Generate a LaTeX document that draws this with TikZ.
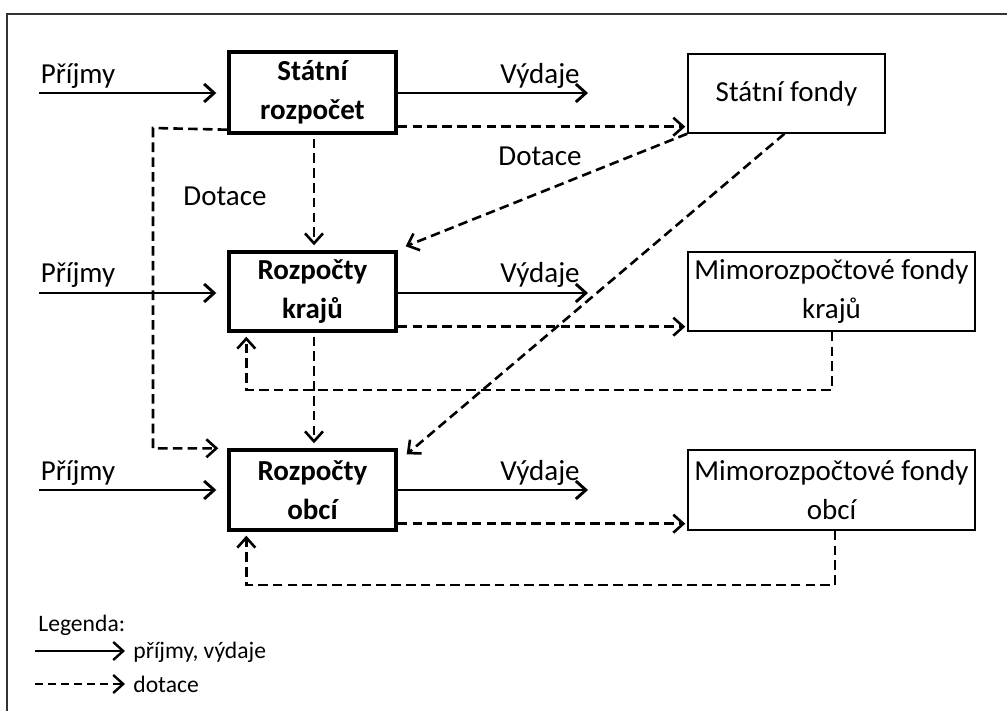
\documentclass[tikz,border=0pt]{standalone}
\usepackage{fontspec}
\setmainfont{Carlito}
\usetikzlibrary{arrows.meta}
\tikzset{
  tipend/.style={-{Straight Barb[length=5pt,width=9pt]}},
  sol/.style={line width=1.45pt, tipend},
  das/.style={line width=1.3pt, dash pattern=on 4.8pt off 2.6pt, tipend},
  bbox/.style={draw, line width=1.7pt, minimum width=83.5pt, align=center, inner sep=0pt,
    font=\bfseries\fontsize{14.5}{19.5}\selectfont},
  fbox/.style={draw, line width=0.75pt, align=center, inner sep=0pt,
    font=\fontsize{14.5}{19.5}\selectfont},
  lbl/.style={inner sep=0pt, font=\fontsize{14.5}{19.5}\selectfont},
  leg/.style={inner sep=0pt, font=\fontsize{11.8}{14}\selectfont},
}
\begin{document}
\begin{tikzpicture}[x=0.5pt,y=-0.5pt]
\useasboundingbox (0,0) rectangle (1007,711);
% frame
\draw[line width=0.8pt, black!80] (7,711) -- (7,14) -- (1007,14);

% boxes
\node[bbox, minimum height=40.5pt] (sr) at (312.5,92.5) {Státní\\rozpočet};
\node[fbox, minimum width=98.5pt, minimum height=39.5pt] (sf) at (786.5,93.5) {Státní fondy};
\node[bbox, minimum height=39.5pt] (kr) at (312.5,291.5) {Rozpočty\\krajů};
\node[fbox, minimum width=143.5pt, minimum height=39.5pt] (mk) at (831.5,291.5) {Mimorozpočtové fondy\\krajů};
\node[bbox, minimum height=40pt] (ob) at (312.5,490) {Rozpočty\\obcí};
\node[fbox, minimum width=143.5pt, minimum height=40pt] (mo) at (831.5,490) {Mimorozpočtové fondy\\obcí};

% labels
\node[lbl] (l1) at (78,76) {Příjmy};
\node[lbl] (l2) at (78,275) {Příjmy};
\node[lbl] (l3) at (78,473) {Příjmy};
\node[lbl] (v1) at (540,76) {Výdaje};
\node[lbl] (v2) at (540,275) {Výdaje};
\node[lbl] (v3) at (540,473) {Výdaje};
\node[lbl] (d1) at (540,156) {Dotace};
\node[lbl] (d2) at (225,196) {Dotace};

% income arrows
\coordinate (p1) at (39,93);
\coordinate (p2) at (39,293);
\coordinate (p3) at (39,490);
\draw[sol, shorten >=5.5pt] (p1) -- (p1 -| sr.west);
\draw[sol, shorten >=5.5pt] (p2) -- (p2 -| kr.west);
\draw[sol, shorten >=5.5pt] (p3) -- (p3 -| ob.west);

% expenditure arrows
\coordinate (e1) at (588,93);
\coordinate (e2) at (588,293);
\coordinate (e3) at (588,490);
\draw[sol] (e1 -| sr.east) -- (e1);
\draw[sol] (e2 -| kr.east) -- (e2);
\draw[sol] (e3 -| ob.east) -- (e3);

% dotace to funds
\draw[das, shorten >=1pt] ([yshift=4pt]sr.south east) -- ([yshift=4pt]sr.south east -| sf.west);
\draw[das, shorten >=1pt] ([yshift=3pt]kr.south east) -- ([yshift=3pt]kr.south east -| mk.west);
\draw[das, shorten >=1pt] ([yshift=4pt]ob.south east) -- ([yshift=4pt]ob.south east -| mo.west);

% vertical dotace
\draw[das, shorten <=2pt, shorten >=2.5pt] ([xshift=0.75pt]sr.south) -- ([xshift=0.75pt]kr.north);
\draw[das, shorten <=2pt, shorten >=2.5pt] ([xshift=0.75pt]kr.south) -- ([xshift=0.75pt]ob.north);

% left dotace from state budget to municipalities
\coordinate (lc) at (153,128);
\draw[das, shorten >=4.5pt] ([yshift=2.5pt]sr.south west) -- (lc) |- (ob.north west);

% state funds to regions and municipalities
\draw[das] (sf.south west) -- ([xshift=4pt,yshift=2pt]kr.north east);
\draw[das] ([xshift=-1pt]sf.south) -- ([xshift=4.5pt,yshift=-3pt]ob.north east);

% feedback from extra-budgetary funds
\coordinate (fk) at (832,390);
\coordinate (fo) at (835,585);
\draw[das, shorten >=2pt] (mk.south -| fk) -- (fk) -| ([xshift=9.5pt]kr.south west);
\draw[das, shorten >=2pt] (mo.south -| fo) -- (fo) -| ([xshift=9.5pt]ob.south west);

% legend
\node[leg, anchor=west] (lg) at (38,625) {Legenda:};
\coordinate (ls1) at (35,651);
\coordinate (ls2) at (35,684);
\node[leg, anchor=west] (lt1) at (133,652) {příjmy, výdaje};
\node[leg, anchor=west] (lt2) at (133,684) {dotace};
\draw[line width=1.2pt, tipend] (ls1) -- ([xshift=-4pt]ls1 -| lt1.west);
\draw[line width=1.2pt, dash pattern=on 4pt off 2.5pt, tipend] (ls2) -- ([xshift=-4pt]ls2 -| lt2.west);
\end{tikzpicture}
\end{document}
